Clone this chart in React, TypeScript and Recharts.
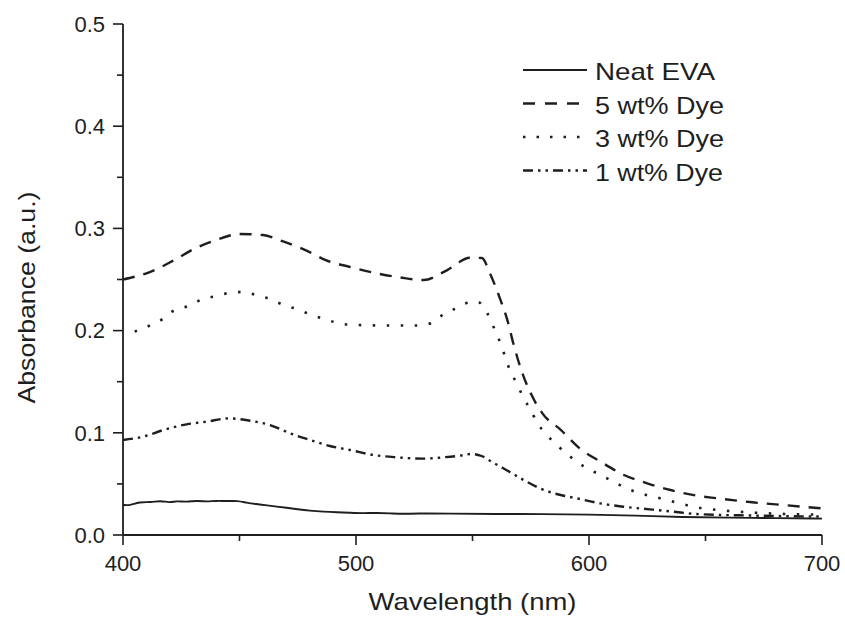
import React from 'react';
import { LineChart, Line, XAxis, YAxis, Label } from 'recharts';

const neatWl = [400, 403, 407, 412, 416, 420, 423, 427, 432, 436, 440, 445, 449, 453, 457, 462, 466, 470, 475, 480, 486, 492, 497, 503, 509, 515, 520, 526, 540, 560, 580, 600, 620, 640, 660, 680, 700];
const neatAbs = [0.0294, 0.0288, 0.0326, 0.0318, 0.0338, 0.0315, 0.0334, 0.0323, 0.0336, 0.0326, 0.0336, 0.033, 0.0336, 0.0316, 0.0303, 0.029, 0.0277, 0.0267, 0.0251, 0.0238, 0.0228, 0.0222, 0.0218, 0.0212, 0.0218, 0.0212, 0.0205, 0.0212, 0.021, 0.0205, 0.0205, 0.02, 0.019, 0.0175, 0.017, 0.0165, 0.016];

const dye5Wl = [400, 412, 422, 431, 440, 450, 460, 469, 479, 487, 497, 509, 519, 529, 539, 549, 554, 557.5, 562, 565, 567.5, 571, 575, 580, 588, 596, 605, 615, 625, 635, 645, 655, 670, 685, 700];
const dye5Abs = [0.25, 0.2577, 0.269, 0.2805, 0.2886, 0.2945, 0.2935, 0.287, 0.278, 0.269, 0.2625, 0.256, 0.252, 0.2495, 0.259, 0.2713, 0.271, 0.256, 0.23, 0.21, 0.1876, 0.161, 0.1386, 0.119, 0.1027, 0.0848, 0.0717, 0.0587, 0.0506, 0.044, 0.039, 0.0359, 0.032, 0.029, 0.026];

const dye3Wl = [405, 411, 417, 421, 428, 434, 440, 446, 452, 457, 463, 469, 475, 481, 487, 493, 500, 512, 525, 531, 536, 541, 546, 552, 556, 559, 562, 564, 566, 569, 572, 575, 577.5, 582, 587, 592, 598, 605, 610.5, 616, 622, 630.5, 639, 645, 653, 670, 685, 700];
const dye3Abs = [0.199, 0.2045, 0.2113, 0.2185, 0.224, 0.2306, 0.2338, 0.237, 0.2378, 0.2348, 0.2309, 0.225, 0.2208, 0.2153, 0.211, 0.207, 0.2055, 0.205, 0.205, 0.2064, 0.2136, 0.2195, 0.226, 0.2283, 0.2185, 0.2038, 0.1876, 0.1745, 0.1614, 0.1484, 0.1337, 0.1223, 0.1109, 0.0978, 0.0864, 0.0766, 0.0668, 0.0587, 0.0522, 0.0457, 0.0408, 0.0359, 0.031, 0.0275, 0.025, 0.022, 0.0205, 0.02];

const dye1Wl = [400, 408.7, 417.3, 427.3, 435.9, 445.2, 454.5, 463.1, 471.7, 480.3, 488.8, 497.4, 507.4, 517.4, 528.9, 537.5, 544.6, 549.6, 553.9, 558.2, 563.2, 568.2, 573.2, 578.9, 586.1, 594.7, 604.7, 614.7, 626.1, 636.1, 646.1, 670, 700];
const dye1Abs = [0.093, 0.0962, 0.1027, 0.1083, 0.1109, 0.1141, 0.1118, 0.1076, 0.0995, 0.093, 0.0871, 0.0832, 0.0783, 0.076, 0.0747, 0.076, 0.0776, 0.0793, 0.0773, 0.0717, 0.0653, 0.0587, 0.0522, 0.0457, 0.0401, 0.0359, 0.031, 0.0277, 0.0251, 0.0228, 0.0205, 0.019, 0.018];

const xTicks = [400, 450, 500, 550, 600, 650, 700];
const xLabeled = [400, 500, 600, 700];
const yTicks = [0, 0.05, 0.1, 0.15, 0.2, 0.25, 0.3, 0.35, 0.4, 0.45, 0.5];
const yLabeled = [0, 0.1, 0.2, 0.3, 0.4, 0.5];

const seriesNames = ['Neat EVA', '5 wt% Dye', '3 wt% Dye', '1 wt% Dye'];
const seriesDash = ['', '12 9', '2.5 11.5', '10 5 2.5 5 2.5 5'];
const legendDash = ['', '12 10', '2.5 11', '10 5 2.5 5 2.5 5'];
const legendTextLen = [120, 129, 129, 128];

const zip = (xs: number[], ys: number[]) => xs.map((wl, i) => ({ wl, a: ys[i] }));
const neatData = zip(neatWl, neatAbs);
const dye5Data = zip(dye5Wl, dye5Abs);
const dye3Data = zip(dye3Wl, dye3Abs);
const dye1Data = zip(dye1Wl, dye1Abs);

const INK = '#1e1e1e';
const FONT = '"Liberation Sans", Arial, sans-serif';
const TICK_SIZE = 10;
const X_MARGIN = 10;
const Y_MARGIN = 8;

const XTick = (props: any) => {
  const { x, y, payload } = props;
  const v = payload.value;
  const major = xLabeled.includes(v);
  const axisY = y - TICK_SIZE - X_MARGIN;
  return (
    <g>
      <line x1={x} x2={x} y1={axisY} y2={axisY + (major ? 10 : 6)} stroke={INK} strokeWidth={1.6} />
      {major && (
        <text x={x} y={y} dy="0.72em" textAnchor="middle" fontSize={22} fontFamily={FONT} fill={INK}>
          {String(v)}
        </text>
      )}
    </g>
  );
};

const YTick = (props: any) => {
  const { x, y, payload } = props;
  const v = payload.value;
  const major = yLabeled.some((t) => Math.abs(t - v) < 1e-9);
  const axisX = x + TICK_SIZE + Y_MARGIN;
  return (
    <g>
      <line x1={axisX - (major ? 10 : 6)} x2={axisX} y1={y} y2={y} stroke={INK} strokeWidth={1.6} />
      {major && (
        <text x={x} y={y} dy="0.355em" textAnchor="end" fontSize={22} fontFamily={FONT} fill={INK}>
          {v.toFixed(1)}
        </text>
      )}
    </g>
  );
};

const XTitle = (props: any) => {
  const vb = props.viewBox;
  return (
    <text x={vb.x + vb.width / 2} y={vb.y + 75} textAnchor="middle" fontSize={24} fontFamily={FONT} fill={INK}
      textLength={208} lengthAdjust="spacingAndGlyphs">
      Wavelength (nm)
    </text>
  );
};

const YTitle = (props: any) => {
  const vb = props.viewBox;
  const cx = vb.x + 12;
  const cy = vb.y + vb.height / 2 + 18;
  return (
    <text x={cx} y={cy} transform={`rotate(-90, ${cx}, ${cy})`} textAnchor="middle" fontSize={24} fontFamily={FONT}
      fill={INK} textLength={212} lengthAdjust="spacingAndGlyphs">
      Absorbance (a.u.)
    </text>
  );
};

const LegendBox = () => (
  <svg width={250} height={140} style={{ display: 'block', position: 'absolute', left: 515, top: 55 }}>
    {seriesNames.map((name, i) => {
      const base = 25 + i * 33.5;
      return (
        <g key={name}>
          <line x1={8} x2={72} y1={base - 10} y2={base - 10} stroke={INK} strokeWidth={i === 0 ? 2.2 : 2.4}
            strokeDasharray={legendDash[i] || undefined} />
          <text x={80} y={base} fontSize={24} fontFamily={FONT} fill={INK} textLength={legendTextLen[i]}
            lengthAdjust="spacingAndGlyphs">
            {name}
          </text>
        </g>
      );
    })}
  </svg>
);

export default function App() {
  return (
    <div style={{ position: 'absolute', left: 0, top: 0, width: 845, height: 621, background: '#fff' }}>
      <LineChart width={845} height={621} margin={{ top: 24, right: 23, bottom: 26, left: 23 }}>
        <XAxis dataKey="wl" type="number" domain={[400, 700]} ticks={xTicks} allowDataOverflow
          height={60} tickLine={false} tickSize={TICK_SIZE} tickMargin={X_MARGIN} tick={<XTick />}
          axisLine={{ stroke: INK, strokeWidth: 1.8 }} interval={0}>
          <Label content={<XTitle />} />
        </XAxis>
        <XAxis xAxisId="top" orientation="top" dataKey="wl" type="number" domain={[400, 700]} height={0}
          tick={false} tickLine={false} axisLine={{ stroke: INK, strokeWidth: 1.8 }} />
        <YAxis type="number" domain={[0, 0.5]} ticks={yTicks} allowDataOverflow width={100} tickLine={false}
          tickSize={TICK_SIZE} tickMargin={Y_MARGIN} tick={<YTick />} axisLine={{ stroke: INK, strokeWidth: 1.8 }}
          interval={0}>
          <Label content={<YTitle />} />
        </YAxis>
        <YAxis yAxisId="right" orientation="right" type="number" domain={[0, 0.5]} width={0} tick={false}
          tickLine={false} axisLine={{ stroke: INK, strokeWidth: 1.8 }} />
        <Line data={neatData} dataKey="a" name={seriesNames[0]} type="basis" stroke={INK} strokeWidth={1.9}
          dot={false} isAnimationActive={false} />
        <Line data={dye5Data} dataKey="a" name={seriesNames[1]} type="monotone" stroke={INK} strokeWidth={2.4}
          strokeDasharray={seriesDash[1]} dot={false} isAnimationActive={false} />
        <Line data={dye3Data} dataKey="a" name={seriesNames[2]} type="monotone" stroke={INK} strokeWidth={2.6}
          strokeDasharray={seriesDash[2]} dot={false} isAnimationActive={false} />
        <Line data={dye1Data} dataKey="a" name={seriesNames[3]} type="monotone" stroke={INK} strokeWidth={2.4}
          strokeDasharray={seriesDash[3]} dot={false} isAnimationActive={false} />
      </LineChart>
      <LegendBox />
    </div>
  );
}
